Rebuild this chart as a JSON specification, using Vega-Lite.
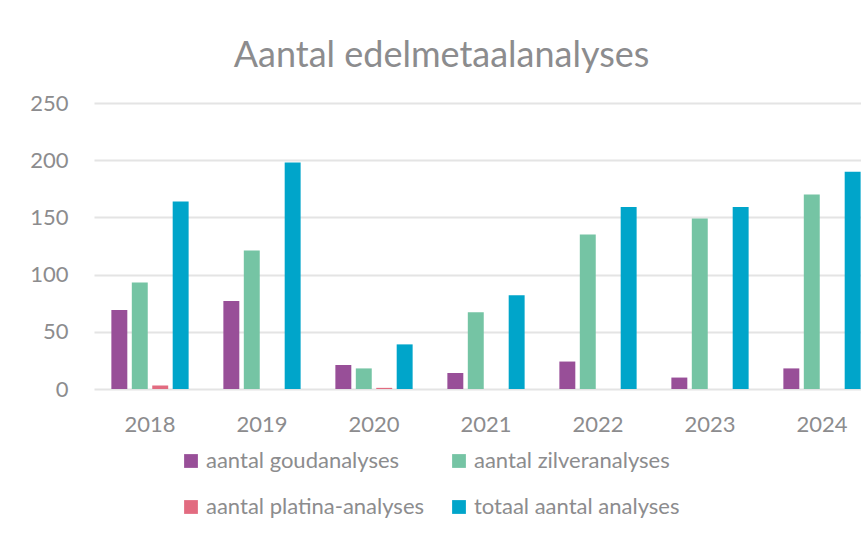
{
  "$schema": "https://vega.github.io/schema/vega-lite/v6.json",
  "width": 767,
  "height": 286,
  "autosize": {"type": "none"},
  "padding": {"left": 94, "top": 103, "right": 0, "bottom": 151},
  "background": "white",
  "title": {
    "text": "Aantal edelmetaalanalyses",
    "font": "Lato",
    "fontSize": 36,
    "fontWeight": "normal",
    "color": "#8C8C8E",
    "anchor": "middle",
    "dx": -36,
    "baseline": "alphabetic",
    "offset": -11
  },
  "data": {
    "values": [
      {"jaar": "2018", "reeks": "aantal goudanalyses", "aantal": 69},
      {"jaar": "2018", "reeks": "aantal zilveranalyses", "aantal": 93},
      {"jaar": "2018", "reeks": "aantal platina-analyses", "aantal": 3},
      {"jaar": "2018", "reeks": "totaal aantal analyses", "aantal": 164},
      {"jaar": "2019", "reeks": "aantal goudanalyses", "aantal": 77},
      {"jaar": "2019", "reeks": "aantal zilveranalyses", "aantal": 121},
      {"jaar": "2019", "reeks": "aantal platina-analyses", "aantal": 0},
      {"jaar": "2019", "reeks": "totaal aantal analyses", "aantal": 198},
      {"jaar": "2020", "reeks": "aantal goudanalyses", "aantal": 21},
      {"jaar": "2020", "reeks": "aantal zilveranalyses", "aantal": 18},
      {"jaar": "2020", "reeks": "aantal platina-analyses", "aantal": 1},
      {"jaar": "2020", "reeks": "totaal aantal analyses", "aantal": 39},
      {"jaar": "2021", "reeks": "aantal goudanalyses", "aantal": 14},
      {"jaar": "2021", "reeks": "aantal zilveranalyses", "aantal": 67},
      {"jaar": "2021", "reeks": "aantal platina-analyses", "aantal": 0},
      {"jaar": "2021", "reeks": "totaal aantal analyses", "aantal": 82},
      {"jaar": "2022", "reeks": "aantal goudanalyses", "aantal": 24},
      {"jaar": "2022", "reeks": "aantal zilveranalyses", "aantal": 135},
      {"jaar": "2022", "reeks": "aantal platina-analyses", "aantal": 0},
      {"jaar": "2022", "reeks": "totaal aantal analyses", "aantal": 159},
      {"jaar": "2023", "reeks": "aantal goudanalyses", "aantal": 10},
      {"jaar": "2023", "reeks": "aantal zilveranalyses", "aantal": 149},
      {"jaar": "2023", "reeks": "aantal platina-analyses", "aantal": 0},
      {"jaar": "2023", "reeks": "totaal aantal analyses", "aantal": 159},
      {"jaar": "2024", "reeks": "aantal goudanalyses", "aantal": 18},
      {"jaar": "2024", "reeks": "aantal zilveranalyses", "aantal": 170},
      {"jaar": "2024", "reeks": "aantal platina-analyses", "aantal": 0},
      {"jaar": "2024", "reeks": "totaal aantal analyses", "aantal": 190}
    ]
  },
  "mark": {"type": "bar"},
  "encoding": {
    "x": {
      "field": "jaar",
      "type": "nominal",
      "scale": {"range": [0, 784], "paddingInner": 0.27, "paddingOuter": 0.135},
      "axis": {
        "title": null,
        "labelAngle": 0,
        "domain": false,
        "ticks": false,
        "labelPadding": 25,
        "labelFont": "Lato",
        "labelFontSize": 22,
        "labelColor": "#8C8C8E"
      }
    },
    "xOffset": {
      "field": "reeks",
      "type": "nominal",
      "sort": ["aantal goudanalyses", "aantal zilveranalyses", "aantal platina-analyses", "totaal aantal analyses"],
      "scale": {"paddingInner": 0.22, "paddingOuter": 0.11}
    },
    "y": {
      "field": "aantal",
      "type": "quantitative",
      "scale": {"domain": [0, 250], "nice": false},
      "axis": {
        "title": null,
        "values": [0, 50, 100, 150, 200, 250],
        "domain": false,
        "ticks": false,
        "labelPadding": 26,
        "labelFont": "Lato",
        "labelFontSize": 22,
        "labelColor": "#8C8C8E",
        "gridColor": "#E4E4E4",
        "gridWidth": 2
      }
    },
    "color": {
      "field": "reeks",
      "type": "nominal",
      "scale": {
        "domain": ["aantal goudanalyses", "aantal zilveranalyses", "aantal platina-analyses", "totaal aantal analyses"],
        "range": ["#984F98", "#75C4A4", "#E26B80", "#00A5CA"]
      },
      "legend": {
        "title": null,
        "orient": "none",
        "legendX": 86,
        "legendY": 347,
        "direction": "horizontal",
        "columns": 2,
        "symbolType": "square",
        "symbolSize": 190,
        "symbolStrokeWidth": 0,
        "labelFont": "Lato",
        "labelFontSize": 22,
        "labelColor": "#8C8C8E",
        "labelOffset": 4,
        "rowPadding": 24,
        "columnPadding": 23,
        "labelLimit": 400
      }
    }
  },
  "config": {
    "view": {"stroke": null}
  }
}
